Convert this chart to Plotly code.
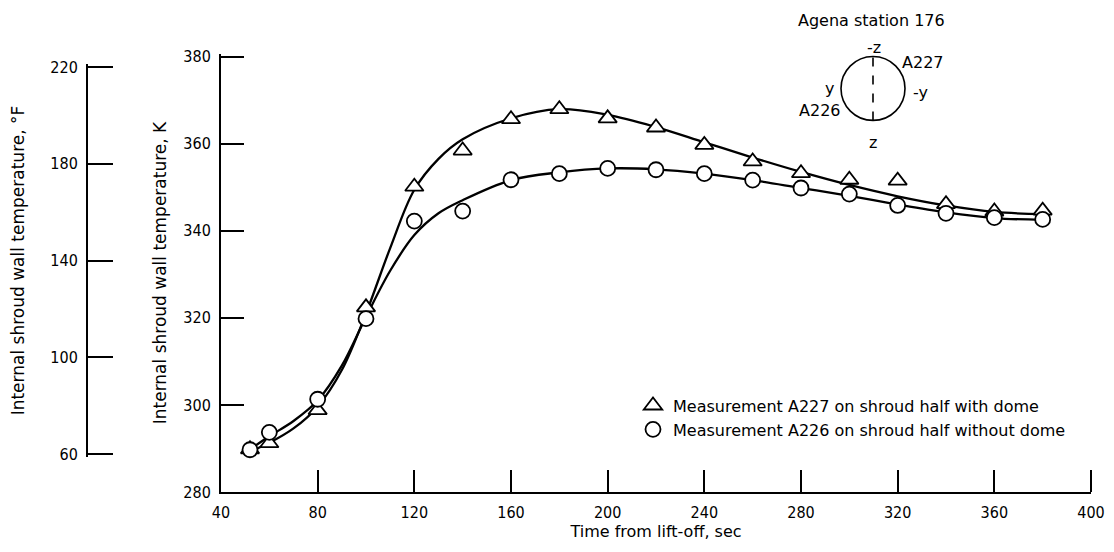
import plotly.graph_objects as go

# Measured shroud wall temperatures (K) versus time from lift-off (sec)
time_a227 = [52, 60, 80, 100, 120, 140, 160, 180, 200, 220, 240, 260, 280, 300, 320, 340, 360, 380]
temp_a227 = [289.8, 291.2, 298.8, 322.4, 350.1, 358.4, 365.6, 367.9, 365.8, 363.7, 359.7, 355.9, 353.2, 351.7, 351.5, 346.1, 344.4, 344.6]

time_a226 = [52, 60, 80, 100, 120, 140, 160, 180, 200, 220, 240, 260, 280, 300, 320, 340, 360, 380]
temp_a226 = [289.7, 293.7, 301.3, 319.8, 342.2, 344.5, 351.7, 353.1, 354.3, 354.0, 353.1, 351.6, 349.8, 348.4, 345.8, 344.0, 343.0, 342.6]

# Faired curves through the measurements
curve_time = [52, 60, 70, 80, 90, 100, 110, 120, 130, 140, 160, 180, 200, 220, 240, 260, 280, 300, 320, 340, 360, 380]
curve_a227 = [289.3, 291.3, 294.6, 299.6, 308.0, 321.0, 336.0, 349.4, 356.5, 361.0, 365.8, 367.9, 366.6, 363.8, 360.3, 356.8, 353.5, 350.5, 347.9, 345.8, 344.3, 343.8]
curve_a226 = [289.8, 292.8, 296.3, 301.0, 309.0, 320.2, 330.8, 339.0, 344.0, 347.0, 351.6, 353.4, 354.3, 354.1, 353.1, 351.6, 349.8, 348.0, 346.0, 344.2, 342.9, 342.5]

time_ticks = [40, 80, 120, 160, 200, 240, 280, 320, 360, 400]
kelvin_ticks = [280, 300, 320, 340, 360, 380]
fahrenheit_ticks = [60, 100, 140, 180, 220]

FONT = "DejaVu Sans"
TICK_FONT = "DejaVu Sans Condensed, DejaVu Sans"
INK = "black"

# Page geometry (pixels): the time axis runs 40..400 s over x = 221..1091,
# the kelvin scale runs 280..380 K over y = 492..56
W, H = 1114, 552
x_left_px, x_right_px = 221, 1091
y_bottom_px, y_top_px = 492, 56
f_axis_px = 87
end_pad_px = 2.5   # keeps the end ticks clear of the axis-end clipping
x_tick_len = 22

px_per_k = (y_bottom_px - y_top_px) / (kelvin_ticks[-1] - kelvin_ticks[0])

L = 20
R = W - x_right_px
T = y_top_px - end_pad_px
B = H - y_bottom_px
plot_w = W - L - R
plot_h = H - T - B

x_range = [time_ticks[0], time_ticks[-1]]
k_range = [kelvin_ticks[0], kelvin_ticks[-1] + end_pad_px / px_per_k]


def px_x(px):
    return (px - L) / plot_w


def px_y(py):
    return (H - B - py) / plot_h


def f_to_k(f):
    return (f - 32) / 1.8 + 273.15


def k_frac(k):
    return (k - k_range[0]) / (k_range[1] - k_range[0])


# Fahrenheit scale: same vertical mapping as kelvin, drawn only over 60..220 F
f_pad = end_pad_px / (px_per_k / 1.8)
f_range = [fahrenheit_ticks[0] - f_pad, fahrenheit_ticks[-1] + f_pad]
f_domain = [k_frac(f_to_k(f_range[0])), k_frac(f_to_k(f_range[1]))]

fig = go.Figure()

fig.add_trace(go.Scatter(x=curve_time, y=curve_a227, mode="lines",
                         line=dict(color=INK, width=2.3, shape="spline", smoothing=1.0),
                         showlegend=False, hoverinfo="skip"))
fig.add_trace(go.Scatter(x=curve_time, y=curve_a226, mode="lines",
                         line=dict(color=INK, width=2.3, shape="spline", smoothing=1.0),
                         showlegend=False, hoverinfo="skip"))

fig.add_trace(go.Scatter(x=time_a227, y=temp_a227, mode="markers",
                         name="Measurement A227 on shroud half with dome",
                         marker=dict(symbol="triangle-up", size=16, color="white",
                                     line=dict(color=INK, width=1.8))))
fig.add_trace(go.Scatter(x=time_a226, y=temp_a226, mode="markers",
                         name="Measurement A226 on shroud half without dome",
                         marker=dict(symbol="circle", size=15, color="white",
                                     line=dict(color=INK, width=1.8))))

# Empty trace that brings the fahrenheit scale into its own subplot
fig.add_trace(go.Scatter(x=[None], y=[None], xaxis="x", yaxis="y2",
                         mode="lines", showlegend=False, hoverinfo="skip"))

axis_common = dict(showgrid=False, zeroline=False, showline=True, linecolor=INK,
                   linewidth=2, ticks="inside", tickcolor=INK, tickwidth=2,
                   tickfont=dict(family=TICK_FONT, size=16, color=INK))

fig.update_layout(
    width=W, height=H,
    margin=dict(l=L, r=R, t=T, b=B, autoexpand=False),
    paper_bgcolor="white", plot_bgcolor="rgba(0,0,0,0)",
    font=dict(family=FONT, color=INK, size=16),
    xaxis=dict(axis_common, domain=[px_x(x_left_px), 1], range=x_range,
               tickvals=time_ticks, ticklen=x_tick_len, ticklabelstandoff=5,
               automargin=False,
               title=dict(text="Time from lift-off, sec", standoff=5,
                          font=dict(family=FONT, size=16, color=INK))),
    yaxis=dict(axis_common, range=k_range, tickvals=kelvin_ticks, ticklen=23,
               ticklabelstandoff=5, automargin=False,
               title=dict(text="Internal shroud wall temperature, K", standoff=12,
                          font=dict(family=FONT, size=17, color=INK))),
    yaxis2=dict(axis_common, domain=f_domain, range=f_range,
                tickvals=fahrenheit_ticks, ticklen=25, anchor="free",
                position=px_x(f_axis_px), ticklabelstandoff=5, automargin=False,
                title=dict(text="Internal shroud wall temperature, °F", standoff=20,
                           font=dict(family=FONT, size=17, color=INK))),
    legend=dict(x=px_x(633), y=px_y(388.5), xanchor="left", yanchor="top",
                bgcolor="rgba(0,0,0,0)", font=dict(family=FONT, size=16, color=INK),
                itemwidth=30, tracegroupgap=0),
    showlegend=True,
)

# Closing tick at the right-hand end of the time axis (x = 400 s)
fig.add_shape(type="line", xref="paper", yref="paper", ysizemode="pixel", yanchor=0,
              x0=1, x1=1, y0=0, y1=x_tick_len,
              line=dict(color=INK, width=2))

# Station sketch: shroud cross-section with the two measurement locations
cx, cy, r = 873, 88, 32
fig.add_shape(type="circle", xref="paper", yref="paper",
              x0=px_x(cx - r), x1=px_x(cx + r), y0=px_y(cy + r), y1=px_y(cy - r),
              line=dict(color=INK, width=1.6))
fig.add_shape(type="line", xref="paper", yref="paper",
              x0=px_x(cx), x1=px_x(cx), y0=px_y(cy + r), y1=px_y(cy - r),
              line=dict(color=INK, width=1.6, dash="dash"))

sketch_labels = [
    ("Agena station 176", 871, 20, "center"),
    ("-z", 874, 47, "center"),
    ("A227", 900, 62, "left"),
    ("y", 829, 88, "center"),
    ("-y", 911, 92, "left"),
    ("A226", 842, 110, "right"),
    ("z", 873, 142, "center"),
]
for text, ax_px, ay_px, anchor in sketch_labels:
    fig.add_annotation(text=text, xref="paper", yref="paper", x=px_x(ax_px), y=px_y(ay_px),
                       xanchor=anchor, yanchor="middle", showarrow=False,
                       font=dict(family=FONT, size=16, color=INK))

fig.write_html("out.html")
